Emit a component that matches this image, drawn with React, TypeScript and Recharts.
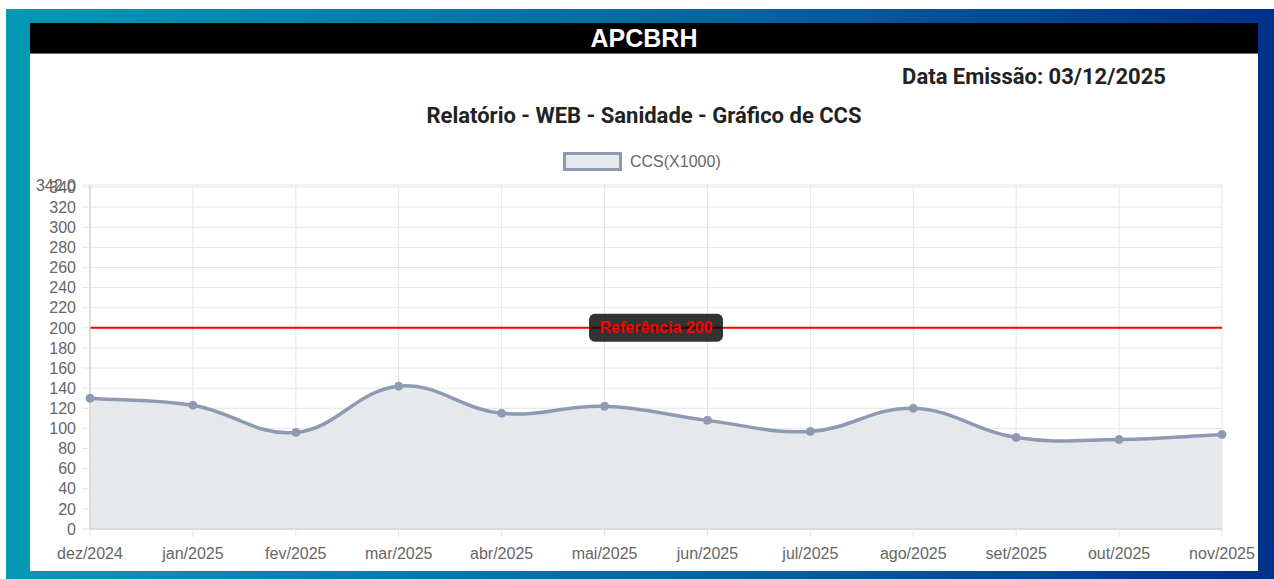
import React from "react";
import { AreaChart, Area, XAxis, YAxis, CartesianGrid, ReferenceLine } from "recharts";

const months = [
  "dez/2024", "jan/2025", "fev/2025", "mar/2025", "abr/2025", "mai/2025",
  "jun/2025", "jul/2025", "ago/2025", "set/2025", "out/2025", "nov/2025",
];
const ccs = [130, 123, 96, 142, 115, 122, 108, 97, 120, 91, 89, 94];
const yTicks = [0, 20, 40, 60, 80, 100, 120, 140, 160, 180, 200, 220, 240, 260, 280, 300, 320, 340, 342];
const yMax = 342;
const reference = 200;

const data = months.map((m, i) => ({ month: m, ccs: ccs[i] }));

// chart.js style spline (tension 0.4) as a d3 curve factory
function splineCurve(context: any) {
  let pts: [number, number][] = [];
  let line = NaN;
  const t = 0.4;
  return {
    areaStart() { line = 0; },
    areaEnd() { line = NaN; },
    lineStart() { pts = []; },
    point(x: number, y: number) { pts.push([+x, +y]); },
    lineEnd() {
      const n = pts.length;
      if (n) {
        if (line) context.lineTo(pts[0][0], pts[0][1]);
        else context.moveTo(pts[0][0], pts[0][1]);
        const cps = pts.map((cur, i) => {
          const prev = pts[i - 1] || cur;
          const next = pts[i + 1] || cur;
          const d01 = Math.hypot(cur[0] - prev[0], cur[1] - prev[1]);
          const d12 = Math.hypot(next[0] - cur[0], next[1] - cur[1]);
          let s01 = d01 / (d01 + d12);
          let s12 = d12 / (d01 + d12);
          if (isNaN(s01)) s01 = 0;
          if (isNaN(s12)) s12 = 0;
          const fa = t * s01;
          const fb = t * s12;
          return {
            px: cur[0] - fa * (next[0] - prev[0]),
            py: cur[1] - fa * (next[1] - prev[1]),
            nx: cur[0] + fb * (next[0] - prev[0]),
            ny: cur[1] + fb * (next[1] - prev[1]),
          };
        });
        for (let i = 1; i < n; i++) {
          context.bezierCurveTo(cps[i - 1].nx, cps[i - 1].ny, cps[i].px, cps[i].py, pts[i][0], pts[i][1]);
        }
      }
      if (line || (line !== 0 && n === 1)) context.closePath();
      line = 1 - line;
    },
  };
}

const RefLabel = (props: any) => {
  const { viewBox } = props;
  const cx = viewBox.x + viewBox.width / 2;
  const cy = viewBox.y;
  return (
    <g>
      <rect x={cx - 67} y={cy - 14} width={134} height={28} rx={6} fill="rgba(0,0,0,0.8)" />
      <text x={cx} y={cy} dy="0.35em" textAnchor="middle" fill="#ff0000" fontSize={16} fontWeight="bold" fontFamily="Arial, 'Liberation Sans', sans-serif">
        Referência 200
      </text>
    </g>
  );
};

const tickStyle = { fill: "#666", fontSize: 16, fontFamily: "Arial, 'Liberation Sans', sans-serif" };

export default function App() {
  return (
    <div style={{ position: "absolute", left: 0, top: 0, width: 1274, height: 579, background: "#fff", overflow: "hidden" }}>
      <div style={{ position: "absolute", left: 6, top: 9, right: 0, bottom: 0, background: "linear-gradient(90deg, #0399b5 0%, #02619e 60%, #01318a 100%)" }} />
      <div style={{ position: "absolute", left: 30, top: 23, width: 1228, height: 548, background: "#fff" }} />
      <div style={{ position: "absolute", left: 30, top: 23, width: 1228, height: 30, background: "#000", borderBottom: "1px solid #666", color: "#fff", fontFamily: "Arial, 'Liberation Sans', sans-serif", fontWeight: "bold", fontSize: 25, textAlign: "center", lineHeight: "30px" }}>
        APCBRH
      </div>
      <div style={{ position: "absolute", left: 880, width: 308, top: 63, lineHeight: "28px", textAlign: "center", fontFamily: "Roboto, sans-serif", fontWeight: "bold", fontSize: 22, color: "#222" }}>
        Data Emissão: 03/12/2025
      </div>
      <div style={{ position: "absolute", left: 30, width: 1228, top: 102, lineHeight: "28px", textAlign: "center", fontFamily: "Roboto, sans-serif", fontWeight: "bold", fontSize: 22, color: "#222" }}>
        Relatório - WEB - Sanidade - Gráfico de CCS
      </div>
      <div style={{ position: "absolute", left: 563, top: 152, display: "flex", alignItems: "center", fontFamily: "Arial, 'Liberation Sans', sans-serif", fontSize: 16, color: "#666" }}>
        <div style={{ width: 53, height: 13, background: "#e6e9eb", border: "3px solid #8e9ab2", marginRight: 8 }} />
        CCS(X1000)
      </div>
      <div style={{ position: "absolute", left: 0, top: 0 }}>
        <AreaChart width={1274} height={579} data={data} margin={{ top: 185, right: 52, bottom: 20, left: 0 }}>
          <CartesianGrid stroke="#e5e5e5" strokeWidth={1} />
          <XAxis
            dataKey="month"
            interval={0}
            height={30}
            tick={tickStyle}
            tickSize={8}
            tickMargin={11}
            stroke="#c9c9c9"
            tickLine={{ stroke: "#e5e5e5" }}
          />
          <YAxis
            domain={[0, yMax]}
            ticks={yTicks}
            interval={0}
            width={90}
            tick={tickStyle}
            tickSize={8}
            tickMargin={6}
            stroke="#c9c9c9"
            tickLine={{ stroke: "#e5e5e5" }}
            tickFormatter={(v: number) => (v === yMax ? v.toFixed(1) : String(v))}
            allowDataOverflow
          />
          <Area
            dataKey="ccs"
            type={splineCurve as any}
            stroke="#8e9ab2"
            strokeWidth={3.5}
            fill="#e6e9eb"
            fillOpacity={1}
            dot={{ r: 4, fill: "#8e9ab2", stroke: "#8e9ab2", strokeWidth: 1 }}
            activeDot={false}
            isAnimationActive={false}
          />
          <ReferenceLine y={reference} stroke="#ff0000" strokeWidth={2} label={<RefLabel />} />
        </AreaChart>
      </div>
    </div>
  );
}
